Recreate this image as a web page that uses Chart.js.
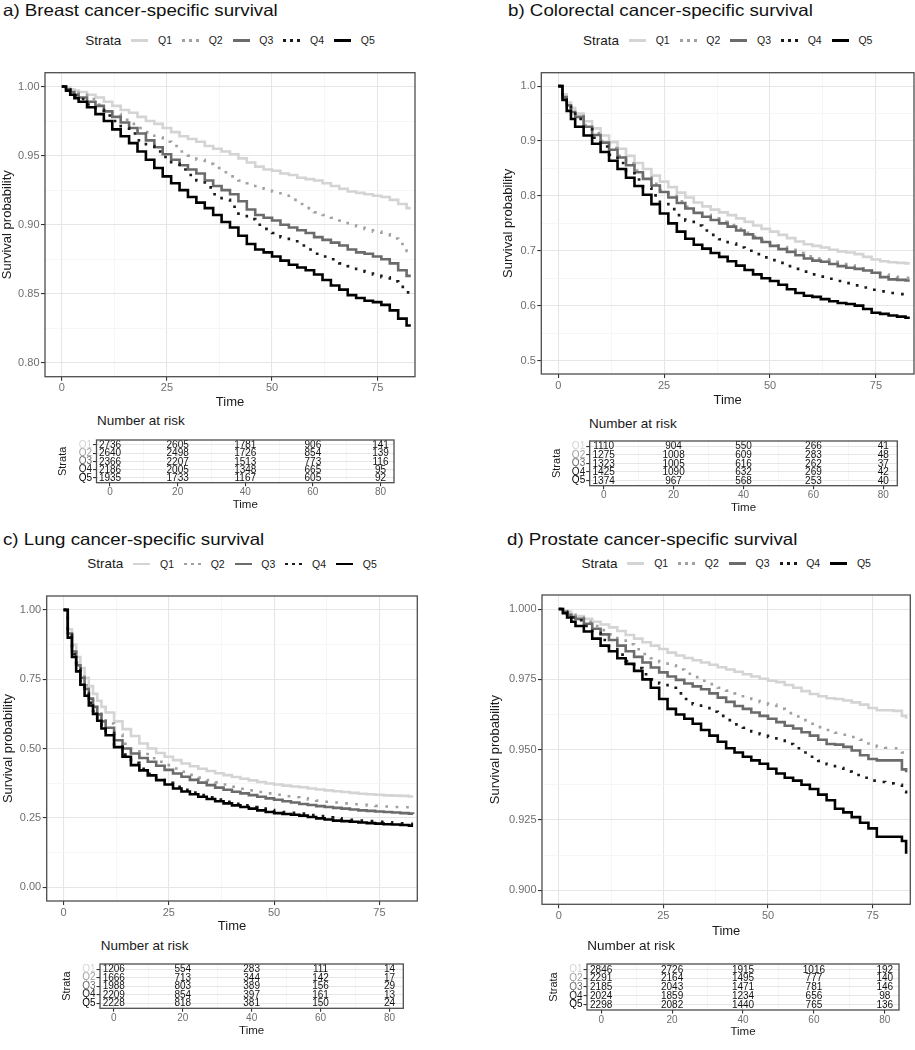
<!DOCTYPE html>
<html><head><meta charset="utf-8">
<script src="https://cdn.jsdelivr.net/npm/chart.js@4.4.1/dist/chart.umd.min.js"></script>
<style>
html,body{margin:0;padding:0;background:#fff;}
body{width:915px;height:1050px;position:relative;overflow:hidden;font-family:"Liberation Sans",Arial,Helvetica,sans-serif;color:#1a1a1a;}
.abs{position:absolute;}
.ptitle{font-size:16.5px;line-height:1;white-space:nowrap;transform:scaleX(1.135);transform-origin:0 0;color:#111;}
.legend{position:absolute;display:flex;align-items:center;justify-content:center;height:20px;white-space:nowrap;}
.legend .lt{font-size:13.5px;line-height:1;color:#1a1a1a;}
.legend .key{margin-left:10px;width:17px;height:2.6px;}
.legend .lab{margin-left:9.7px;font-size:10.5px;line-height:1;width:14px;color:#1a1a1a;}
.nar{position:absolute;font-size:13.5px;line-height:1;white-space:nowrap;color:#1a1a1a;}
canvas{position:absolute;}
</style></head><body>
<script>
// ---------------- DATA ----------------
const strata = ['Q1','Q2','Q3','Q4','Q5'];
const timeMonths = [0,1,2,3,4,6,8,10,12,14,16,18,20,22,24,26,28,30,32,34,36,38,40,42,44,46,48,50,52,54,56,58,60,62,64,66,68,70,72,74,76,78,80,82,83];
const timeMonthsLung = [0,1,2,3,4,5,6,7,8,9,10,12,14,16,18,20,22,24,26,28,30,32,34,36,38,40,42,44,46,48,50,52,54,56,58,60,62,64,66,68,70,72,74,76,78,80,82,83];

// a) Breast
const breastQ1 = [1.000,0.999,0.998,0.997,0.996,0.994,0.992,0.989,0.986,0.983,0.981,0.978,0.975,0.973,0.970,0.967,0.964,0.962,0.960,0.957,0.955,0.953,0.951,0.948,0.945,0.942,0.940,0.939,0.937,0.936,0.934,0.933,0.932,0.930,0.928,0.926,0.924,0.923,0.922,0.921,0.920,0.918,0.915,0.912,0.912];
const breastQ2 = [1.000,0.9985,0.997,0.9955,0.994,0.991,0.987,0.983,0.980,0.976,0.973,0.970,0.967,0.963,0.960,0.957,0.953,0.950,0.947,0.944,0.941,0.938,0.935,0.932,0.930,0.928,0.926,0.924,0.921,0.918,0.915,0.912,0.909,0.907,0.905,0.903,0.901,0.899,0.897,0.895,0.893,0.890,0.886,0.881,0.880];
const breastQ3 = [1.000,0.998,0.996,0.994,0.992,0.989,0.986,0.982,0.978,0.974,0.970,0.966,0.961,0.956,0.951,0.947,0.943,0.940,0.937,0.932,0.928,0.925,0.922,0.917,0.911,0.907,0.905,0.903,0.900,0.898,0.896,0.894,0.891,0.889,0.887,0.885,0.882,0.880,0.879,0.877,0.875,0.872,0.867,0.863,0.863];
const breastQ4 = [1.000,0.998,0.996,0.9935,0.991,0.987,0.983,0.979,0.975,0.970,0.966,0.961,0.957,0.953,0.949,0.944,0.940,0.936,0.932,0.927,0.922,0.918,0.913,0.908,0.904,0.900,0.897,0.894,0.891,0.888,0.885,0.882,0.879,0.877,0.875,0.872,0.870,0.868,0.866,0.864,0.862,0.859,0.855,0.851,0.850];
const breastQ5 = [1.000,0.997,0.994,0.9915,0.989,0.985,0.980,0.975,0.969,0.964,0.959,0.953,0.947,0.941,0.935,0.930,0.925,0.920,0.916,0.912,0.907,0.902,0.898,0.892,0.886,0.882,0.880,0.877,0.874,0.871,0.869,0.867,0.864,0.860,0.856,0.853,0.849,0.847,0.845,0.844,0.842,0.838,0.832,0.827,0.827];

// b) Colorectal
const colorectalQ1 = [1.000,0.985,0.970,0.960,0.950,0.936,0.923,0.910,0.898,0.886,0.873,0.860,0.849,0.837,0.826,0.816,0.806,0.797,0.788,0.781,0.775,0.770,0.765,0.759,0.753,0.746,0.740,0.735,0.729,0.723,0.717,0.712,0.709,0.706,0.702,0.699,0.697,0.694,0.689,0.684,0.681,0.679,0.678,0.677,0.677];
const colorectalQ2 = [1.000,0.982,0.967,0.955,0.946,0.929,0.914,0.900,0.887,0.873,0.859,0.846,0.834,0.822,0.810,0.800,0.790,0.780,0.772,0.765,0.759,0.753,0.747,0.740,0.733,0.726,0.720,0.713,0.707,0.702,0.696,0.690,0.686,0.684,0.680,0.676,0.673,0.671,0.668,0.664,0.657,0.653,0.652,0.651,0.650];
const colorectalQ3 = [1.000,0.980,0.965,0.953,0.944,0.926,0.911,0.897,0.884,0.870,0.856,0.843,0.831,0.819,0.807,0.797,0.787,0.777,0.769,0.762,0.756,0.750,0.744,0.737,0.730,0.723,0.716,0.709,0.703,0.698,0.692,0.686,0.682,0.680,0.676,0.672,0.669,0.667,0.664,0.660,0.652,0.648,0.647,0.646,0.646];
const colorectalQ4 = [1.000,0.980,0.963,0.950,0.940,0.922,0.906,0.890,0.875,0.860,0.845,0.830,0.815,0.801,0.788,0.776,0.765,0.755,0.746,0.737,0.729,0.721,0.713,0.706,0.700,0.694,0.688,0.683,0.678,0.672,0.667,0.662,0.657,0.653,0.649,0.645,0.641,0.637,0.633,0.629,0.626,0.623,0.621,0.619,0.618];
const colorectalQ5 = [1.000,0.975,0.955,0.940,0.926,0.910,0.895,0.880,0.864,0.849,0.833,0.818,0.802,0.785,0.768,0.750,0.735,0.722,0.711,0.704,0.696,0.689,0.681,0.673,0.665,0.657,0.650,0.645,0.638,0.630,0.623,0.618,0.616,0.612,0.608,0.605,0.603,0.600,0.594,0.587,0.585,0.582,0.580,0.578,0.578];

// c) Lung (denser early time grid)
const lungQ1 = [1.000,0.930,0.875,0.830,0.790,0.755,0.725,0.697,0.672,0.650,0.630,0.598,0.570,0.545,0.518,0.500,0.484,0.470,0.458,0.446,0.436,0.427,0.419,0.411,0.404,0.397,0.391,0.385,0.379,0.374,0.370,0.366,0.363,0.360,0.356,0.352,0.349,0.346,0.343,0.340,0.337,0.335,0.333,0.331,0.330,0.329,0.327,0.327];
const lungQ2 = [1.000,0.920,0.860,0.810,0.765,0.728,0.695,0.665,0.638,0.613,0.590,0.550,0.517,0.497,0.480,0.465,0.452,0.440,0.428,0.416,0.405,0.395,0.386,0.378,0.370,0.362,0.355,0.349,0.343,0.338,0.333,0.328,0.324,0.320,0.316,0.312,0.308,0.305,0.302,0.299,0.297,0.295,0.293,0.291,0.289,0.288,0.286,0.286];
const lungQ3 = [1.000,0.915,0.850,0.800,0.755,0.715,0.680,0.650,0.623,0.598,0.575,0.530,0.500,0.482,0.466,0.452,0.438,0.423,0.410,0.398,0.387,0.377,0.368,0.359,0.351,0.344,0.338,0.332,0.326,0.320,0.315,0.310,0.305,0.300,0.296,0.292,0.289,0.286,0.283,0.280,0.277,0.275,0.273,0.271,0.269,0.267,0.265,0.264];
const lungQ4 = [1.000,0.910,0.840,0.787,0.740,0.700,0.665,0.635,0.608,0.582,0.557,0.513,0.478,0.448,0.427,0.409,0.392,0.376,0.362,0.351,0.341,0.332,0.324,0.316,0.308,0.301,0.295,0.289,0.283,0.278,0.274,0.271,0.268,0.265,0.260,0.256,0.252,0.248,0.245,0.243,0.240,0.238,0.236,0.234,0.232,0.230,0.228,0.228];
const lungQ5 = [1.000,0.900,0.830,0.778,0.730,0.690,0.655,0.625,0.600,0.572,0.548,0.505,0.470,0.440,0.421,0.403,0.386,0.370,0.356,0.345,0.335,0.326,0.318,0.310,0.302,0.295,0.289,0.283,0.277,0.271,0.267,0.264,0.261,0.258,0.253,0.248,0.244,0.240,0.238,0.236,0.233,0.231,0.229,0.227,0.226,0.224,0.222,0.222];

// d) Prostate
const prostateQ1 = [1.0000,0.9995,0.999,0.998,0.9975,0.9965,0.9955,0.9945,0.9935,0.9922,0.9908,0.9895,0.9882,0.987,0.9858,0.9845,0.9835,0.9826,0.9818,0.981,0.9802,0.9793,0.9785,0.9777,0.9768,0.976,0.9752,0.9745,0.974,0.973,0.972,0.9708,0.9698,0.969,0.9683,0.968,0.9675,0.9668,0.966,0.9648,0.964,0.964,0.9638,0.962,0.961];
const prostateQ2 = [1.0000,0.9995,0.999,0.998,0.997,0.9955,0.994,0.9925,0.991,0.9893,0.9875,0.9857,0.984,0.9825,0.9812,0.980,0.9785,0.977,0.9758,0.9745,0.9733,0.972,0.971,0.970,0.969,0.968,0.967,0.966,0.9645,0.963,0.9618,0.9605,0.9592,0.958,0.957,0.956,0.9553,0.9545,0.9535,0.9522,0.951,0.9507,0.9505,0.949,0.948];
const prostateQ3 = [1.0000,0.999,0.998,0.9972,0.9965,0.9948,0.993,0.991,0.989,0.987,0.985,0.983,0.981,0.9792,0.9775,0.976,0.9748,0.9735,0.9725,0.9715,0.970,0.9685,0.967,0.9655,0.9645,0.9632,0.962,0.961,0.9598,0.9585,0.9575,0.9562,0.955,0.9535,0.952,0.9518,0.951,0.9497,0.948,0.9467,0.9462,0.9462,0.9462,0.943,0.942];
const prostateQ4 = [1.0000,0.999,0.998,0.997,0.996,0.994,0.9915,0.989,0.9865,0.9838,0.9815,0.979,0.9768,0.975,0.9735,0.972,0.970,0.968,0.9662,0.9648,0.9635,0.962,0.9605,0.959,0.9578,0.9565,0.9555,0.9545,0.9532,0.952,0.9505,0.949,0.9475,0.946,0.9448,0.9435,0.9422,0.941,0.940,0.939,0.9385,0.938,0.9375,0.935,0.9335];
const prostateQ5 = [1.0000,0.9985,0.997,0.9955,0.994,0.992,0.9895,0.987,0.985,0.9825,0.9805,0.978,0.975,0.972,0.968,0.9645,0.9625,0.961,0.9592,0.957,0.955,0.9528,0.9505,0.949,0.9475,0.9462,0.945,0.9432,0.9415,0.940,0.939,0.9375,0.936,0.934,0.932,0.929,0.9277,0.926,0.924,0.922,0.919,0.919,0.919,0.9175,0.913];

// Number at risk tables
const riskTimes = [0,20,40,60,80];
const breastRiskQ1 = [2736,2605,1781,906,141];
const breastRiskQ2 = [2640,2498,1726,854,139];
const breastRiskQ3 = [2366,2207,1513,773,116];
const breastRiskQ4 = [2186,2005,1348,665,95];
const breastRiskQ5 = [1935,1733,1167,605,92];
const colorectalRiskQ1 = [1110,904,550,266,41];
const colorectalRiskQ2 = [1275,1008,609,283,48];
const colorectalRiskQ3 = [1323,1005,616,262,37];
const colorectalRiskQ4 = [1425,1090,632,269,42];
const colorectalRiskQ5 = [1374,967,568,253,40];
const lungRiskQ1 = [1206,554,283,111,14];
const lungRiskQ2 = [1666,713,344,142,17];
const lungRiskQ3 = [1988,803,389,156,29];
const lungRiskQ4 = [2209,854,397,161,13];
const lungRiskQ5 = [2228,818,381,150,24];
const prostateRiskQ1 = [2846,2726,1915,1016,192];
const prostateRiskQ2 = [2291,2164,1495,777,140];
const prostateRiskQ3 = [2185,2043,1471,781,146];
const prostateRiskQ4 = [2024,1859,1234,656,98];
const prostateRiskQ5 = [2298,2082,1440,765,136];

// ---------------- STYLE ----------------
const FONT = "'Liberation Sans', Arial, Helvetica, sans-serif";
Chart.defaults.font.family = FONT;
const lineColors = ['#d4d4d4','#a0a0a0','#6b6b6b','#1a1a1a','#000000'];
const lineDash = [[], [2.7, 8.1], [], [2.7, 8.1], []];
const tickGrey = '#6e6e6e';
const textDark = '#1a1a1a';
const gridMajor = '#e6e6e6';
const gridMinor = '#f2f2f2';
const xRange = [-4.0, 84.0];

function isMajor(v, step) { const r = v / step; return Math.abs(r - Math.round(r)) < 1e-6; }

const framePlugin = {
  id: 'frame',
  afterDraw(chart) {
    const { ctx, chartArea: a } = chart;
    ctx.save();
    ctx.strokeStyle = '#4d4d4d';
    ctx.lineWidth = 1.3;
    ctx.strokeRect(a.left, a.top, a.right - a.left, a.bottom - a.top);
    ctx.restore();
  }
};

function addCanvas(l, t, w, h) {
  const c = document.createElement('canvas');
  c.width = w; c.height = h;
  c.style.left = l + 'px'; c.style.top = t + 'px';
  c.style.width = w + 'px'; c.style.height = h + 'px';
  document.body.appendChild(c);
  return c;
}

function gridOpts(step, tl) {
  const maj = c => c.tick && isMajor(c.tick.value, step);
  return {
    color: c => maj(c) ? gridMajor : gridMinor,
    lineWidth: c => maj(c) ? 1.1 : 0.7,
    tickLength: tl,
    tickWidth: 1.1,
    tickColor: c => maj(c) ? '#333333' : 'rgba(0,0,0,0)'
  };
}

function addText(cls, text, left, top) {
  const d = document.createElement('div');
  d.className = cls + ' abs';
  d.textContent = text;
  d.style.left = left + 'px'; d.style.top = top + 'px';
  document.body.appendChild(d);
}

function addLegend(plot, centerY) {
  const lg = document.createElement('div');
  lg.className = 'legend';
  lg.style.left = plot.l + 'px';
  lg.style.width = (plot.r - plot.l) + 'px';
  lg.style.top = (centerY - 10) + 'px';
  const t = document.createElement('span'); t.className = 'lt'; t.textContent = 'Strata'; lg.appendChild(t);
  strata.forEach((s, i) => {
    const k = document.createElement('span'); k.className = 'key';
    if (lineDash[i].length) {
      k.style.background = 'repeating-linear-gradient(to right,' + lineColors[i] + ' 0 2.7px, transparent 2.7px 7px)';
    } else {
      k.style.background = lineColors[i];
    }
    lg.appendChild(k);
    const l = document.createElement('span'); l.className = 'lab'; l.textContent = s; lg.appendChild(l);
  });
  document.body.appendChild(lg);
}

function drawKM(p) {
  const cl = Math.round(p.yTitleX - 7.8);
  const ct = Math.round(p.plot.t - 14);
  const cr = Math.min(Math.round(p.plot.r + 12), 915);
  const cb = Math.round(p.xTitleY + 7.8);
  const canvas = addCanvas(cl, ct, cr - cl, cb - ct);
  const yW = p.plot.l - cl, xH = cb - p.plot.b, padT = p.plot.t - ct, padR = cr - p.plot.r;
  new Chart(canvas, {
    type: 'line',
    data: { datasets: p.series.map((vals, i) => ({
      label: strata[i],
      data: p.times.map((t, j) => ({ x: t, y: vals[j] })),
      stepped: 'before',
      borderColor: lineColors[i], borderWidth: 2.6, borderDash: lineDash[i],
      borderCapStyle: 'butt', pointRadius: 0, pointHoverRadius: 0, fill: false, order: 5 - i
    })) },
    options: {
      responsive: false, animation: false, devicePixelRatio: 1, events: [],
      layout: { padding: { top: padT, right: padR, left: 0, bottom: 0 } },
      plugins: { legend: { display: false }, tooltip: { enabled: false } },
      scales: {
        x: { type: 'linear', min: xRange[0], max: xRange[1], border: { display: false },
          grid: gridOpts(25, 4),
          ticks: { stepSize: 12.5, includeBounds: false, autoSkip: false, maxRotation: 0, minRotation: 0, padding: 1,
            color: tickGrey, font: { size: 11 }, callback: v => isMajor(v, 25) ? String(v) : '' },
          title: { display: true, text: 'Time', color: textDark, font: { size: 13 }, padding: 0 },
          afterFit: s => { s.height = xH; } },
        y: { type: 'linear', min: p.yMin, max: p.yMax, border: { display: false },
          grid: gridOpts(p.yMajor, 4),
          ticks: { stepSize: p.yMajor / 2, includeBounds: false, autoSkip: false, padding: 1.5,
            color: tickGrey, font: { size: 11 }, callback: v => isMajor(v, p.yMajor) ? v.toFixed(p.yDec) : '' },
          title: { display: true, text: 'Survival probability', color: textDark, font: { size: 13 }, padding: 0 },
          afterFit: s => { s.width = yW; } }
      }
    },
    plugins: [framePlugin]
  });
}

function drawRisk(p) {
  const cl = Math.round(p.table.l - 40.1);
  const ct = Math.round(p.table.t - 4);
  const cr = Math.min(Math.round(p.table.r + 10), 915);
  const cb = Math.round(p.table.b + 22.5 + 6.9);
  const canvas = addCanvas(cl, ct, cr - cl, cb - ct);
  const yW = p.table.l - cl, xH = cb - p.table.b, padT = p.table.t - ct, padR = cr - p.table.r;
  const countsPlugin = {
    id: 'counts',
    afterDatasetsDraw(chart) {
      const ctx = chart.ctx;
      ctx.save();
      ctx.font = '10px ' + FONT;
      ctx.fillStyle = '#111';
      ctx.textAlign = 'center';
      ctx.textBaseline = 'middle';
      chart.data.datasets.forEach((ds, i) => {
        chart.getDatasetMeta(i).data.forEach((el, j) => {
          ctx.fillText(String(p.counts[i][j]), el.x, el.y + 0.5);
        });
      });
      ctx.restore();
    }
  };
  new Chart(canvas, {
    type: 'scatter',
    data: { datasets: p.counts.map((row, i) => ({
      label: strata[i],
      data: riskTimes.map(t => ({ x: t, y: i + 1 })),
      pointRadius: 0, pointHoverRadius: 0, showLine: false
    })) },
    options: {
      responsive: false, animation: false, devicePixelRatio: 1, events: [],
      layout: { padding: { top: padT, right: padR, left: 0, bottom: 0 } },
      plugins: { legend: { display: false }, tooltip: { enabled: false } },
      scales: {
        x: { type: 'linear', min: xRange[0], max: xRange[1], border: { display: false },
          grid: gridOpts(20, 3.5),
          ticks: { stepSize: 10, includeBounds: false, autoSkip: false, maxRotation: 0, minRotation: 0, padding: 0.5,
            color: tickGrey, font: { size: 10 }, callback: v => isMajor(v, 20) ? String(v) : '' },
          title: { display: true, text: 'Time', color: textDark, font: { size: 11.5 }, padding: 0 },
          afterFit: s => { s.height = xH; } },
        y: { type: 'linear', reverse: true, min: 0.4, max: 5.6, border: { display: false },
          grid: { color: gridMajor, lineWidth: 1.1, tickLength: 3.5, tickWidth: 1.1, tickColor: '#333333' },
          ticks: { stepSize: 1, includeBounds: false, autoSkip: false, padding: 1,
            color: c => lineColors[Math.round(c.tick.value) - 1], font: { size: 10 },
            callback: v => strata[Math.round(v) - 1] },
          title: { display: true, text: 'Strata', color: textDark, font: { size: 11 }, padding: 0 },
          afterFit: s => { s.width = yW; } }
      }
    },
    plugins: [framePlugin, countsPlugin]
  });
}

// ---------------- PANELS ----------------
const panels = [
  { title: 'a) Breast cancer-specific survival', titleX: 3.3, titleY: 2, legendY: 40.7,
    plot: { l: 45, t: 72.7, r: 415, b: 376.7 }, yTitleX: 8, xTitleY: 402.5,
    yMin: 0.79, yMax: 1.01, yMajor: 0.05, yDec: 2, times: timeMonths,
    series: [breastQ1, breastQ2, breastQ3, breastQ4, breastQ5],
    narX: 97, narY: 414.3, table: { l: 96.5, t: 436.7, r: 394, b: 482.7 },
    counts: [breastRiskQ1, breastRiskQ2, breastRiskQ3, breastRiskQ4, breastRiskQ5] },
  { title: 'b) Colorectal cancer-specific survival', titleX: 508.3, titleY: 2, legendY: 40.7,
    plot: { l: 541.3, t: 72.7, r: 914, b: 374 }, yTitleX: 508.7, xTitleY: 400.5,
    yMin: 0.4755, yMax: 1.0245, yMajor: 0.1, yDec: 1, times: timeMonths,
    series: [colorectalQ1, colorectalQ2, colorectalQ3, colorectalQ4, colorectalQ5],
    narX: 589, narY: 416.9, table: { l: 589.7, t: 438.3, r: 897.3, b: 485.7 },
    counts: [colorectalRiskQ1, colorectalRiskQ2, colorectalRiskQ3, colorectalRiskQ4, colorectalRiskQ5] },
  { title: 'c) Lung cancer-specific survival', titleX: 3.3, titleY: 531, legendY: 564,
    plot: { l: 46.7, t: 596, r: 417.3, b: 901 }, yTitleX: 8.7, xTitleY: 926,
    yMin: -0.05, yMax: 1.05, yMajor: 0.25, yDec: 2, times: timeMonthsLung,
    series: [lungQ1, lungQ2, lungQ3, lungQ4, lungQ5],
    narX: 100.7, narY: 939.3, table: { l: 100, t: 960.7, r: 403.3, b: 1008.3 },
    counts: [lungRiskQ1, lungRiskQ2, lungRiskQ3, lungRiskQ4, lungRiskQ5] },
  { title: 'd) Prostate cancer-specific survival', titleX: 507.3, titleY: 531, legendY: 563.3,
    plot: { l: 542, t: 595, r: 910.3, b: 904.3 }, yTitleX: 495.5, xTitleY: 931,
    yMin: 0.895, yMax: 1.005, yMajor: 0.025, yDec: 3, times: timeMonths,
    series: [prostateQ1, prostateQ2, prostateQ3, prostateQ4, prostateQ5],
    narX: 587.3, narY: 939.3, table: { l: 587, t: 960.7, r: 899, b: 1010 },
    counts: [prostateRiskQ1, prostateRiskQ2, prostateRiskQ3, prostateRiskQ4, prostateRiskQ5] }
];

panels.forEach(p => {
  drawKM(p);
  drawRisk(p);
  addText('ptitle', p.title, p.titleX, p.titleY);
  addLegend(p.plot, p.legendY);
  addText('nar', 'Number at risk', p.narX, p.narY);
});
</script>
</body></html>
